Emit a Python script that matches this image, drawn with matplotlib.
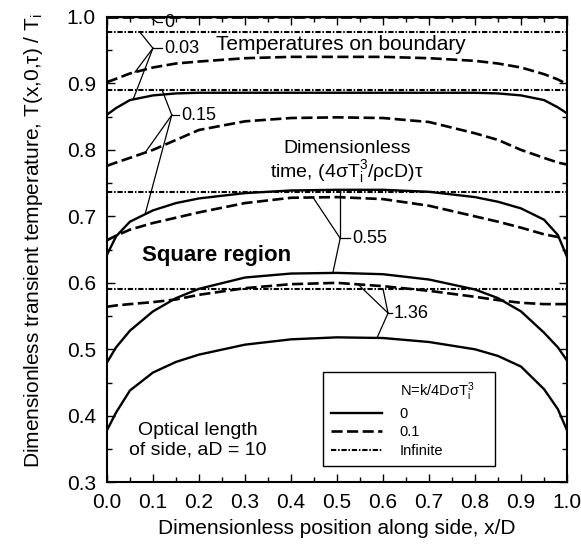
import numpy as np
import matplotlib
matplotlib.use("Agg")
from matplotlib import pyplot as plt
from matplotlib.lines import Line2D

plt.rcParams["font.family"] = ["Liberation Sans", "DejaVu Sans"]
plt.rcParams["mathtext.fontset"] = "custom"
plt.rcParams["mathtext.rm"] = "Liberation Sans"
plt.rcParams["mathtext.it"] = "Liberation Sans:italic"
plt.rcParams["lines.scale_dashes"] = False

# x/D positions where the curves were read
x = [0, 0.02, 0.05, 0.1, 0.15, 0.2, 0.3, 0.4, 0.5, 0.6, 0.7, 0.8, 0.85, 0.9, 0.95, 0.98, 1.0]

# N = 0 (solid), keyed by dimensionless time
solid = {
    "0": [1.0] * 17,
    "0.03": [0.853, 0.863, 0.875, 0.882, 0.885, 0.886, 0.886, 0.886, 0.886, 0.886, 0.886,
             0.886, 0.885, 0.882, 0.875, 0.864, 0.855],
    "0.15": [0.642, 0.670, 0.692, 0.709, 0.720, 0.727, 0.735, 0.739, 0.740, 0.740, 0.737,
             0.729, 0.722, 0.712, 0.695, 0.672, 0.639],
    "0.55": [0.480, 0.503, 0.528, 0.557, 0.577, 0.591, 0.608, 0.614, 0.615, 0.613, 0.605,
             0.590, 0.577, 0.557, 0.525, 0.503, 0.483],
    "1.36": [0.378, 0.405, 0.438, 0.465, 0.481, 0.492, 0.507, 0.515, 0.518, 0.517, 0.511,
             0.500, 0.490, 0.474, 0.440, 0.410, 0.378],
}

# N = 0.1 (dashed)
dashed = {
    "0": [1.0] * 17,
    "0.03": [0.902, 0.907, 0.915, 0.924, 0.930, 0.933, 0.938, 0.940, 0.940, 0.940, 0.938,
             0.934, 0.930, 0.924, 0.914, 0.906, 0.899],
    "0.15": [0.776, 0.781, 0.788, 0.800, 0.815, 0.830, 0.843, 0.848, 0.849, 0.848, 0.842,
             0.825, 0.815, 0.800, 0.788, 0.781, 0.778],
    "0.55": [0.664, 0.671, 0.680, 0.690, 0.698, 0.706, 0.720, 0.728, 0.729, 0.726, 0.716,
             0.700, 0.692, 0.683, 0.673, 0.669, 0.667],
    "1.36": [0.564, 0.566, 0.568, 0.571, 0.575, 0.582, 0.592, 0.598, 0.600, 0.595, 0.588,
             0.579, 0.574, 0.570, 0.568, 0.568, 0.568],
}

# N infinite (dash-dot), uniform temperature
infinite = {"0": 1.0, "0.03": 0.977, "0.15": 0.890, "0.55": 0.737, "1.36": 0.591}

# time labels: junction x, y, text x, and target x on (solid, dashed, dash-dot)
labels = {
    "0": (0.109, 0.992, 0.124, [0.093, None, None]),
    "0.03": (0.100, 0.953, 0.124, [0.057, 0.061, 0.072]),
    "0.15": (0.141, 0.8525, 0.161, [0.083, 0.083, 0.120]),
    "0.55": (0.507, 0.667, 0.533, [0.491, 0.448, 0.507]),
    "1.36": (0.611, 0.5545, 0.624, [0.587, 0.546, 0.600]),
}

fig = plt.figure(figsize=(5.81, 5.48), dpi=100)
ax = fig.add_axes([0.184, 0.120, 0.792, 0.849])

lw_s = 1.7
lw_d = 1.9
lw_dd = 1.5
dash_d = (8, 3.2)
dash_dd = (3.8, 1.3, 1.1, 1.3)

for t in solid:
    ax.plot(x, solid[t], color="k", lw=lw_s, solid_capstyle="butt")
    ax.plot(x, dashed[t], color="k", lw=lw_d, dashes=dash_d)
    ax.plot([0, 1], [infinite[t]] * 2, color="k", lw=lw_dd, dashes=dash_dd)

for t, (jx, jy, tx, tgt) in labels.items():
    ax.plot([jx, tx - 0.004], [jy, jy], color="k", lw=0.9)
    curves = [solid[t], dashed[t], [infinite[t]] * len(x)]
    for cx, cv in zip(tgt, curves):
        if cx is None:
            continue
        cy = np.interp(cx, x, cv)
        ax.plot([jx, cx], [jy, cy], color="k", lw=0.9)
    ax.text(tx, jy, t, fontsize=13, ha="left", va="center")

ax.text(0.509, 0.958, "Temperatures on boundary", fontsize=15, ha="center", va="center")
ax.text(0.522, 0.781, "Dimensionless\ntime, (4σT$_\\mathrm{i}^3$/ρcD)τ", fontsize=14,
        ha="center", va="center", linespacing=1.05)
ax.text(0.076, 0.641, "Square region", fontsize=16, fontweight="bold", ha="left", va="center")
ax.text(0.198, 0.363, "Optical length\nof side, aD = 10", fontsize=14, ha="center",
        va="center", linespacing=1.2)

handles = [
    Line2D([], [], color="none"),
    Line2D([], [], color="k", lw=lw_s),
    Line2D([], [], color="k", lw=lw_d, dashes=dash_d),
    Line2D([], [], color="k", lw=lw_dd, dashes=dash_dd),
]
names = ["N=k/4DσT$_\\mathrm{i}^3$    ", "0", "0.1", "Infinite"]
leg = ax.legend(handles, names, loc="upper left", bbox_to_anchor=(0.47, 0.237),
                fontsize=10.5, frameon=True, fancybox=False, framealpha=1,
                edgecolor="k", handlelength=3.5, handletextpad=1.2, labelspacing=0.3,
                borderpad=0.55, borderaxespad=0)
leg.get_frame().set_linewidth(1.0)

ax.set_xlim(0, 1)
ax.set_ylim(0.3, 1.0)
ax.set_xticks(np.arange(0, 1.01, 0.1))
ax.set_yticks(np.arange(0.3, 1.01, 0.1))
ax.set_xticks(np.arange(0, 1.01, 0.05), minor=True)
ax.set_yticks(np.arange(0.3, 1.01, 0.05), minor=True)
ax.xaxis.set_major_formatter(matplotlib.ticker.FormatStrFormatter("%.1f"))
ax.yaxis.set_major_formatter(matplotlib.ticker.FormatStrFormatter("%.1f"))
ax.tick_params(which="both", direction="in", top=True, right=True, labelsize=15, width=1)
ax.tick_params(which="major", length=6, pad=8)
ax.tick_params(which="minor", length=3.5)
for s in ax.spines.values():
    s.set_linewidth(1.5)

ax.set_xlabel("Dimensionless position along side, x/D", fontsize=15)
ax.set_ylabel("Dimensionless transient temperature, T(x,0,τ) / T$_\\mathrm{i}$", fontsize=15)
ax.xaxis.set_label_coords(0.5, -0.08)
ax.yaxis.set_label_coords(-0.135, 0.52)

fig.savefig("out.png", dpi=100)
